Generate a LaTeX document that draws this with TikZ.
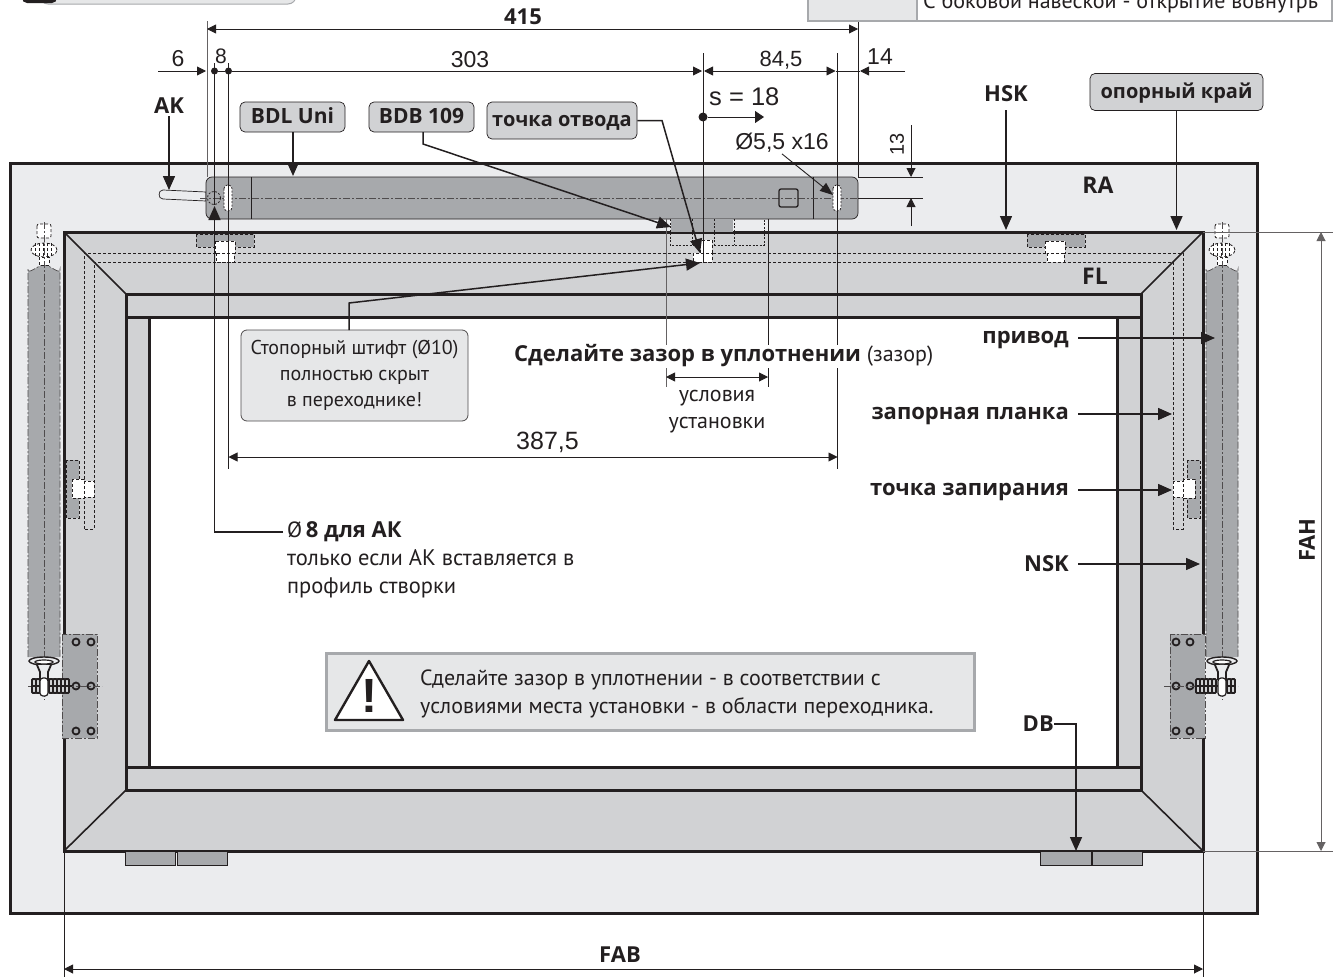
\documentclass[tikz,border=0pt]{standalone}
\usepackage{fontspec}
\setmainfont{Open Sans}
\newfontfamily\numfont{Liberation Sans}
\newfontfamily\narrowfont{PT Sans}
\usetikzlibrary{arrows.meta, positioning, calc}
\definecolor{inkline}{HTML}{231F20}
\definecolor{wallgray}{HTML}{EBECEE}
\definecolor{framegray}{HTML}{D1D2D4}
\definecolor{drivegray}{HTML}{A7A9AC}
\definecolor{notegray}{HTML}{E6E7E8}
\begin{document}
\begin{tikzpicture}[
    x=1pt, y=-1pt,
    heavy/.style={draw=inkline, line width=3pt},
    dimline/.style={draw=inkline, line width=0.9pt},
    dimarrow/.style={dimline, -{Triangle[length=9pt, width=9pt]}},
    dimboth/.style={dimline, {Triangle[length=9pt, width=9pt]}-{Triangle[length=9pt, width=9pt]}},
    leader/.style={draw=inkline, line width=1.5pt, -{Triangle[length=14pt, width=12pt]}},
    hidden/.style={draw=inkline, line width=0.8pt, dash pattern=on 3pt off 2pt},
    axis/.style={draw=inkline!80, line width=0.7pt, dash pattern=on 7pt off 2pt on 2pt off 2pt},
    boxlabel/.style={draw=inkline, line width=0.7pt, fill=framegray, rounded corners=5pt, font=\bfseries\fontsize{20}{20}\selectfont, inner sep=0pt, align=center, text height=12pt, text depth=0pt, text=inkline},
    bold/.style={font=\bfseries\fontsize{22}{22}\selectfont, inner sep=0pt, text=inkline},
    lowcase/.style={text height=11pt, text depth=0pt},
    dimtext/.style={font=\numfont\fontsize{23}{23}\selectfont, inner sep=0pt, text=inkline},
    plain/.style={font=\narrowfont\fontsize{22}{24}\selectfont, inner sep=0pt, text=inkline},
    dot/.style={circle, fill=inkline, inner sep=0pt, minimum size=7pt}
]
    \useasboundingbox (0,0) rectangle (1343,977);
    \clip (0,0) rectangle (1343,977);

    % Header remains
    \draw[draw=drivegray, line width=1pt, fill=notegray, rounded corners=8pt] (40,-20) rectangle (296,4);
    \fill[inkline, rounded corners=5pt] (22,-12) rectangle (57,3);
    \draw[draw=drivegray, line width=1.5pt, fill=notegray] (808,-5) rectangle (917,21);
    \draw[draw=drivegray, line width=1.5pt, fill=white] (917,-5) rectangle (1332,21);
    \node[plain, anchor=base west] (hinge) at (923,8.5) {С боковой навеской - открытие вовнутрь};

    % Wall and frame
    \draw[heavy, fill=wallgray] (10,163) rectangle (1257,913);
    \draw[heavy, fill=framegray] (64,232) rectangle (1203,851);
    \fill[white] (149,317) rectangle (1117,767);
    \draw[heavy] (126,294) rectangle (1141,790);
    \draw[heavy] (149,767) -- (149,317) (1117,317) -- (1117,767);
    \draw[heavy] (126,317) -- (1141,317) (126,767) -- (1141,767);
    \draw[inkline, line width=1.6pt] (64,232) -- (126,294) (1203,232) -- (1141,294) (64,851) -- (126,790) (1203,851) -- (1141,790);

    % Locking strips and keepers
    \draw[hidden] (84,529) -- (84,253) -- (1183,253) -- (1183,529) -- (1173,529) -- (1173,262) -- (94,262) -- (94,529) -- cycle;
    \foreach \keepx in {196,1027}
        \draw[hidden, fill=drivegray] (\keepx,234) rectangle ++(58,13);
    \draw[hidden, fill=drivegray] (66,460) rectangle (79,518);
    \draw[hidden, fill=drivegray] (1187,460) rectangle (1200,518);
    \draw[hidden, fill=white] (215,241) rectangle (235,253);
    \draw[hidden, fill=white] (216,253) rectangle (234,262);
    \draw[hidden, fill=white] (1045,241) rectangle (1065,253);
    \draw[hidden, fill=white] (1047,253) rectangle (1064,262);
    \draw[hidden, fill=white] (72,479) rectangle (84,498);
    \draw[hidden, fill=white] (84,481) rectangle (94,497);
    \draw[hidden, fill=white] (1173,481) rectangle (1183,497);
    \draw[hidden, fill=white] (1183,479) rectangle (1195,498);

    % Side hinges
    \fill[drivegray] (62,634) rectangle (97,738);
    \draw[axis] (62,634) rectangle (97,738);
    \fill[drivegray] (1170,634) rectangle (1205,738);
    \draw[axis] (1170,634) rectangle (1205,738);
    \foreach \hingex in {76,91,1176,1190}
        \foreach \hingey in {642,686,731}
            \draw[inkline, line width=1.8pt] (\hingex,\hingey) circle (3.5pt);
    \draw[axis] (28,686) -- (102,686) (1164,686) -- (1238,686);

    % Side drives
    \foreach \drivex in {44,1222} {
        \draw[axis, fill=drivegray] (\drivex-16,657) -- (\drivex-16,269) to[out=-90, in=180] (\drivex,265) to[out=0, in=-90] (\drivex+16,269) -- (\drivex+16,657);
        \draw[hidden, fill=white, rounded corners=2pt] (\drivex-7,224) rectangle (\drivex+7,238);
        \draw[hidden, fill=white] (\drivex,250) ellipse (13pt and 7pt);
        \foreach \stepx in {-9,-5,-1,3,7}
            \draw[hidden] (\drivex+\stepx,243) -- (\drivex+\stepx,257);
        \draw[hidden, fill=white] (\drivex-5,257) rectangle (\drivex+5,265);
        \draw[axis] (\drivex,222) -- (\drivex,700);
        \draw[inkline, line width=1.4pt, fill=wallgray] (\drivex,661) ellipse (15pt and 4pt);
        \draw[inkline, line width=1.2pt, fill=white] (\drivex,662) ellipse (9pt and 2pt);
        \draw[inkline, line width=1.8pt, fill=wallgray] (\drivex-7,665) -- (\drivex-4,672) -- (\drivex-4,679) -- (\drivex+4,679) -- (\drivex+4,672) -- (\drivex+7,665);
    }
    % Drive bolts
    \foreach \barx in {32,36,49,53,57,61,65}
        \draw[inkline, line width=1.8pt, fill=framegray, rounded corners=1pt] (\barx,679) rectangle ++(4,14);
    \draw[inkline, line width=1.3pt] (32,686) -- (72,686);
    \draw[inkline, line width=1.2pt, fill=white, rounded corners=3pt] (40,678) rectangle (48,696);
    \foreach \barx in {1196,1200,1204,1208,1212,1227,1231}
        \draw[inkline, line width=1.8pt, fill=framegray, rounded corners=1pt] (\barx,679) rectangle ++(4,14);
    \draw[inkline, line width=1.3pt] (1196,686) -- (1235,686);
    \draw[inkline, line width=1.2pt, fill=white, rounded corners=3pt] (1218,678) rectangle (1226,696);

    % Bottom hinges
    \foreach \lowx/\lowy in {125/175,177/227,1040/1091,1092/1142}
        \draw[inkline, line width=1pt, fill=drivegray] (\lowx,851) rectangle (\lowy,865);

    % Top drive BDL Uni
    \draw[inkline, line width=0.7pt, fill=wallgray] (163,190) to[out=180, in=180, looseness=1.5] (163,199) -- (206,201) -- (206,192) -- cycle;
    \draw[inkline, line width=0.7pt, fill=drivegray, rounded corners=6pt] (206,177) rectangle (858,219);
    \draw[inkline, line width=0.7pt] (251,177) -- (251,219) (813,177) -- (813,219);
    \draw[axis] (200,198) -- (858,198);
    \draw[hidden, dash pattern=on 2pt off 1.5pt] (214,198) circle (6.5pt);
    \draw[hidden, fill=white, dash pattern=on 2pt off 1.5pt, rounded corners=3.5pt] (224,185) rectangle (232,211);
    \draw[hidden, fill=white, dash pattern=on 2pt off 1.5pt, rounded corners=3.5pt] (833,185) rectangle (841,211);
    \draw[inkline, line width=1.3pt, rounded corners=2pt] (779,189) rectangle (798,207);

    % Adapter BDB 109
    \fill[drivegray] (671,219) rectangle (733,232);
    \draw[hidden, dash pattern=on 2pt off 1.5pt] (670,219) -- (670,245) -- (764,245) -- (764,219) (692,219) -- (692,245) (714,219) -- (714,245) (734,219) -- (734,245);
    \draw[hidden, fill=white] (700,240) rectangle (712,253);
    \draw[hidden, fill=white] (693,253) rectangle (712,262);

    % Main dimensions
    \coordinate (topleft) at (207,29);
    \coordinate (topright) at (858,29);
    \coordinate (sixstart) at (158,71);
    \coordinate (sixend) at (206,71);
    \coordinate (fourteenstart) at (905,71);
    \coordinate (fourteenend) at (860,71);
    \node[dot] (dotA) at (214.5,71) {};
    \node[dot] (dotB) at (228.5,71) {};
    \coordinate (midleft) at (702,71);
    \coordinate (midright) at (704,71);
    \coordinate (rightend) at (835.5,71);
    \draw[draw=inkline!70, line width=1pt] (207,21) -- (207,177);
    \draw[dimline] (858,22) -- (858,177);
    \draw[dimboth] (topleft) -- (topright);
    \draw[dimarrow] (sixstart) -- (sixend);
    \draw[dimline] (dotA) -- (dotB);
    \draw[dimarrow] (dotB) -- (midleft);
    \draw[dimboth] (midright) -- (rightend);
    \draw[dimline] (rightend) -- (fourteenend);
    \draw[dimarrow] (fourteenstart) -- (fourteenend);
    \draw[dimline] (214.5,63) -- (214.5,205);
    \draw[dimline] (228.5,63) -- (228.5,469);
    \draw[dimline] (703,53) -- (703,263);
    \draw[dimline] (837.5,53) -- (837.5,469);
    \draw[draw=inkline!70, line width=1pt] (666,219) -- (666,345);
    \draw[dimline] (768,219) -- (768,345);
    \draw[draw=inkline!70, line width=1pt] (666,368) -- (666,387);
    \draw[dimline] (768,368) -- (768,387);
    \draw[dimline] (858,177) -- (923,177) (858,198) -- (923,198);

    % Dimension texts
    \node[bold] (wide) at (523,17) {415};
    \node[dimtext] (six) at (178,59) {6};
    \node[dimtext, font=\numfont\fontsize{21}{21}\selectfont] (eight) at (221,56) {8};
    \node[dimtext] (len) at (470,60) {303};
    \node[dimtext, font=\numfont\fontsize{22}{22}\selectfont] (part) at (781,60) {84,5};
    \node[dimtext] (tail) at (880,57) {14};
    \node[dimtext, anchor=west, font=\numfont\fontsize{25.5}{25.5}\selectfont] (stroke) at (709,97) {s = 18};
    \node[dimtext] (slot) at (782,143) {Ø5,5 x16};
    \node[dimtext, rotate=90, font=\numfont\fontsize{20}{20}\selectfont] (height) at (897,144) {13};
    \node[dimtext, anchor=west, font=\numfont\fontsize{25}{25}\selectfont] (span) at (516,442) {387,5};

    % s marker
    \node[dot, minimum size=9pt] (strokedot) at (703,117) {};
    \coordinate (strokeend) at (764,117);
    \draw[dimline, -{Triangle[length=9pt, width=12pt]}] (strokedot) -- (strokeend);
    \coordinate (slotend) at (833,195);
    \draw[dimline, -{Triangle[length=13pt, width=10pt]}] (slot.south) ++(0,1) -- (slotend);
    \coordinate (headtop) at (911,125);
    \coordinate (headbot) at (911,226);
    \draw[dimarrow] (headtop) -- (911,177);
    \draw[dimarrow] (headbot) -- (911,198);

    % Callouts on top
    \node[bold] (ak) at (169,106) {AK};
    \coordinate (akend) at (169,190);
    \draw[leader] (ak.south) ++(0,2) -- (akend);
    \node[boxlabel, minimum width=105pt, minimum height=30pt, font=\bfseries\fontsize{21}{21}\selectfont] (bdl) at (292.5,117) {BDL Uni};
    \coordinate (bdlend) at (293,176);
    \draw[leader] (bdl.south -| bdlend) -- (bdlend);
    \node[boxlabel, minimum width=105pt, minimum height=30pt, font=\bfseries\fontsize{21}{21}\selectfont] (bdb) at (421.5,117) {BDB 109};
    \coordinate (bdbend) at (671,227);
    \draw[leader] (423,132) -- (423,144) -- (bdbend);
    \node[boxlabel, minimum width=150pt, minimum height=37pt] (retract) at (562,120.5) {точка отвода};
    \coordinate (retractend) at (700,253);
    \draw[leader] (retract.east) -- (662,120.5) -- (retractend);
    \node[bold] (hsk) at (1006,94) {HSK};
    \coordinate (hskend) at (1006,230);
    \draw[leader] (1006,110) -- (hskend);
    \node[boxlabel, minimum width=173pt, minimum height=37pt] (edge) at (1176.5,92) {опорный край};
    \coordinate (edgeend) at (1176.5,230);
    \draw[leader] (edge.south) -- (edgeend);
    \node[bold, font=\bfseries\fontsize{23}{23}\selectfont] (ra) at (1098,185) {RA};
    \node[bold, font=\bfseries\fontsize{23}{23}\selectfont] (fl) at (1095,276) {FL};

    % Stop pin note
    \node[draw=inkline!80, line width=0.8pt, fill=notegray, rounded corners=6pt, minimum width=227pt, minimum height=91pt, align=center, font=\narrowfont\fontsize{20}{26}\selectfont, text=inkline, inner sep=0pt] (pin) at (354.5,375.5) {Стопорный штифт (Ø10)\\полностью скрыт\\в переходнике!};
    \coordinate (pinend) at (700,263);
    \draw[leader] (349,330) -- (349,303) -- (pinend);

    % Seal gap
    \node[anchor=west, inner sep=0pt, fill=white, minimum height=23pt, font=\narrowfont\fontsize{22}{22}\selectfont, text=inkline] (gap) at (514,356) {{\fontspec{Open Sans}\bfseries\fontsize{22}{22}\selectfont Сделайте зазор в уплотнении} (зазор)};
    \coordinate (gapleft) at (666,377);
    \coordinate (gapright) at (768,377);
    \draw[dimboth] (gapleft) -- (gapright);
    \node[plain, align=center, font=\narrowfont\fontsize{22}{27}\selectfont] (site) at (717,412) {условия\\установки};
    \coordinate (spanleft) at (228.5,457);
    \coordinate (spanright) at (837.5,457);
    \draw[dimboth] (spanleft) -- (spanright);

    % Labels on the right
    \node[bold, lowcase, anchor=east] (drive) at (1069,338) {привод};
    \coordinate (driveend) at (1215,338);
    \draw[leader] (1078,338) -- (driveend);
    \node[bold, lowcase, anchor=east] (strip) at (1069,414) {запорная планка};
    \coordinate (stripend) at (1172,414);
    \draw[leader] (1078,414) -- (stripend);
    \node[bold, lowcase, anchor=east] (lockpt) at (1069,490) {точка запирания};
    \coordinate (lockend) at (1172,490);
    \draw[leader] (1078,490) -- (lockend);
    \node[bold, anchor=east] (nsk) at (1069,564) {NSK};
    \coordinate (nskend) at (1200,564);
    \draw[leader] (1078,564) -- (nskend);
    \node[bold, anchor=east] (db) at (1054,724) {DB};
    \coordinate (dbend) at (1076,851);
    \draw[leader] (db.east) -- (1076,724) -- (dbend);

    % Cable bore
    \node[anchor=west, inner sep=0pt, font=\bfseries\fontsize{22}{22}\selectfont, text=inkline] (bore) at (287,532) {{\narrowfont\mdseries Ø}\,8 для АК};
    \coordinate (boreend) at (214.5,206);
    \draw[leader] (bore.west) ++(-4,0) -- (214.5,532) -- (boreend);
    \node[plain, anchor=north west, align=left, font=\narrowfont\fontsize{22.5}{28}\selectfont] (boretext) at (287,549) {только если АК вставляется в\\профиль створки};

    % Warning
    \node[draw=drivegray, line width=3pt, fill=notegray, minimum width=648pt, minimum height=77pt, inner sep=0pt] (warn) at (650,691.5) {};
    \draw[inkline, line width=2.4pt, fill=white, line join=round] (335,720) -- (369,661) -- (403,720) -- cycle;
    \node[inner sep=0pt, font=\numfont\bfseries\fontsize{48}{48}\selectfont, text=inkline] (warnsign) at (369,696) {!};
    \node[plain, anchor=west, align=left, font=\narrowfont\fontsize{22}{28}\selectfont] (warntext) at (420,694) {Сделайте зазор в уплотнении - в соответствии с\\условиями места установки - в области переходника.};

    % Overall size
    \coordinate (fabl) at (64,969);
    \coordinate (fabr) at (1203,969);
    \draw[dimline] (64,851) -- (64,977) (1203,851) -- (1203,977);
    \draw[dimboth] (fabl) -- (fabr);
    \node[bold] (fab) at (620,955) {FAB};
    \coordinate (fahtop) at (1321,232);
    \coordinate (fahbot) at (1321,851);
    \draw[draw=inkline!70, line width=1pt] (1203,232) -- (1333,232) (1203,851) -- (1333,851);
    \draw[dimline, draw=inkline!70, {Triangle[length=9pt, width=9pt]}-{Triangle[length=9pt, width=9pt]}] (fahtop) -- (fahbot);
    \node[bold, rotate=90] (fah) at (1307,540) {FAH};
\end{tikzpicture}
\end{document}
